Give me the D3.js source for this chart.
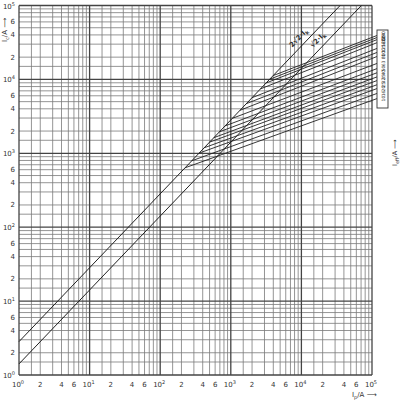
<!DOCTYPE html>
<html><head><meta charset="utf-8">
<script src="https://cdn.jsdelivr.net/npm/d3@7"></script>
<style>body{margin:0;background:#fff}svg{display:block}text{font-family:"DejaVu Sans",sans-serif;fill:#333}</style>
</head><body><svg id="c" width="400" height="400"></svg>
<script>
// ---- data ----
const decades = [1, 10, 100, 1000, 10000, 100000];
const decadeExp = ["0", "1", "2", "3", "4", "5"];
const minorSteps = [1.5, 2, 3, 4, 5, 6, 7, 8, 9];
const labelSteps = [2, 4, 6];
const ratings = [250, 224, 200, 160, 125, 100, 80, 63, 50, 40, 35, 32, 25, 20, 16, 10];
const startIp = [3980, 3550, 3160, 2630, 2000, 1660, 1350, 1050, 830, 690, 575, 500, 420, 355, 280, 225];
const peakAt100k = [37000, 34700, 32500, 29500, 24700, 21800, 19200, 15500, 13200, 11600, 10200, 9100, 8000, 7100, 6100, 5200];
const diagFactors = [2 * Math.SQRT2, Math.SQRT2];
const diagLabels = ["2√2·I", "√2·I"];

const svg = d3.select("#c");
const x = d3.scaleLog().domain([1, 1e5]).range([19, 372]);
const y = d3.scaleLog().domain([1, 1e5]).range([375, 5.5]);

// grid
const minorVals = [];
decades.slice(0, 5).forEach(d => minorSteps.forEach(m => minorVals.push(d * m)));
const g = svg.append("g");
g.selectAll(".vx").data(minorVals).join("line")
  .attr("x1", d => x(d)).attr("x2", d => x(d)).attr("y1", y(1e5)).attr("y2", y(1))
  .attr("stroke", "#7a7a7a").attr("stroke-width", 0.8);
g.selectAll(".hy").data(minorVals).join("line")
  .attr("y1", d => y(d)).attr("y2", d => y(d)).attr("x1", x(1)).attr("x2", x(1e5))
  .attr("stroke", "#7a7a7a").attr("stroke-width", 0.8);
g.selectAll(".vd").data(decades).join("line")
  .attr("x1", d => x(d)).attr("x2", d => x(d)).attr("y1", y(1e5)).attr("y2", y(1))
  .attr("stroke", "#444").attr("stroke-width", 1.3);
g.selectAll(".hd").data(decades).join("line")
  .attr("y1", d => y(d)).attr("y2", d => y(d)).attr("x1", x(1)).attr("x2", x(1e5))
  .attr("stroke", "#444").attr("stroke-width", 1.3);

// tick labels
const labVals = [];
decades.slice(0, 5).forEach(d => labelSteps.forEach(m => labVals.push(d * m)));
const lead = d => String(Math.round(d / Math.pow(10, Math.floor(Math.log10(d) + 1e-9))));
svg.selectAll(".xl").data(labVals).join("text")
  .attr("x", d => x(d)).attr("y", 387).attr("text-anchor", "middle")
  .attr("font-size", 7).text(lead);
svg.selectAll(".yl").data(labVals).join("text")
  .attr("x", 15).attr("y", d => y(d) + 2.5).attr("text-anchor", "end")
  .attr("font-size", 7).text(lead);
decades.forEach((d, i) => {
  const tx = svg.append("text").attr("x", x(d) - 1).attr("y", 387).attr("text-anchor", "middle").attr("font-size", 7);
  tx.append("tspan").text("10");
  tx.append("tspan").attr("dy", -3).attr("font-size", 5).text(decadeExp[i]);
  const ty = svg.append("text").attr("x", 15).attr("y", y(d) + 3).attr("text-anchor", "end").attr("font-size", 7);
  ty.append("tspan").text("10");
  ty.append("tspan").attr("dy", -3).attr("font-size", 5).text(decadeExp[i]);
});

// diagonals
const line = d3.line().x(d => x(d[0])).y(d => y(d[1]));
diagFactors.forEach((f, i) => {
  svg.append("path").attr("d", line([[1, f], [1e5 / f, 1e5]]))
    .attr("fill", "none").attr("stroke", "#222").attr("stroke-width", 1);
});
// diagonal labels
const ang = Math.atan2(y(10) - y(1), x(10) - x(1)) * 180 / Math.PI;
[[x(1e5 / diagFactors[0]) - 40, y(1e5) + 34], [x(1e5 / diagFactors[1]) - 42, y(1e5) + 36]].forEach((p, i) => {
  const t = svg.append("text").attr("transform", `translate(${p[0]},${p[1]}) rotate(${ang})`)
    .attr("text-anchor", "middle").attr("font-size", 7).attr("font-weight", "bold");
  t.append("tspan").text(diagLabels[i]);
  t.append("tspan").attr("dy", 2).attr("font-size", 5).text("k");
});

// cut-off lines
const xEnd = x.invert(377);
ratings.forEach((r, i) => {
  const x0 = startIp[i], y0 = diagFactors[0] * x0;
  const s = Math.log(peakAt100k[i] / y0) / Math.log(1e5 / x0);
  const yE = y0 * Math.pow(xEnd / x0, s);
  svg.append("path").attr("d", line([[x0, y0], [xEnd, yE]]))
    .attr("fill", "none").attr("stroke", "#222").attr("stroke-width", 0.9);
  svg.append("text").attr("transform", `translate(${x(xEnd) + 8},${y(yE)}) rotate(-90)`)
    .attr("text-anchor", "middle").attr("font-size", 4.5).text(r);
});
// label box
svg.append("rect").attr("x", 377).attr("y", 30).attr("width", 11).attr("height", 78)
  .attr("fill", "none").attr("stroke", "#333").attr("stroke-width", 0.9);

// axis titles
const yt = svg.append("text").attr("transform", "translate(7,42) rotate(-90)").attr("font-size", 7).attr("text-anchor", "start");
yt.append("tspan").text("I");
yt.append("tspan").attr("dy", 2).attr("font-size", 5).text("c");
yt.append("tspan").attr("dy", -2).text("/A ⟶");
const xt = svg.append("text").attr("x", 352).attr("y", 397).attr("font-size", 7);
xt.append("tspan").text("I");
xt.append("tspan").attr("dy", 2).attr("font-size", 5).text("p");
xt.append("tspan").attr("dy", -2).text("/A ⟶");
const rt = svg.append("text").attr("transform", "translate(397,166) rotate(-90)").attr("font-size", 6.5).attr("text-anchor", "start");
rt.append("tspan").text("I");
rt.append("tspan").attr("dy", 2).attr("font-size", 5).text("eff");
rt.append("tspan").attr("dy", -2).text("/A ⟶");
</script></body></html>
